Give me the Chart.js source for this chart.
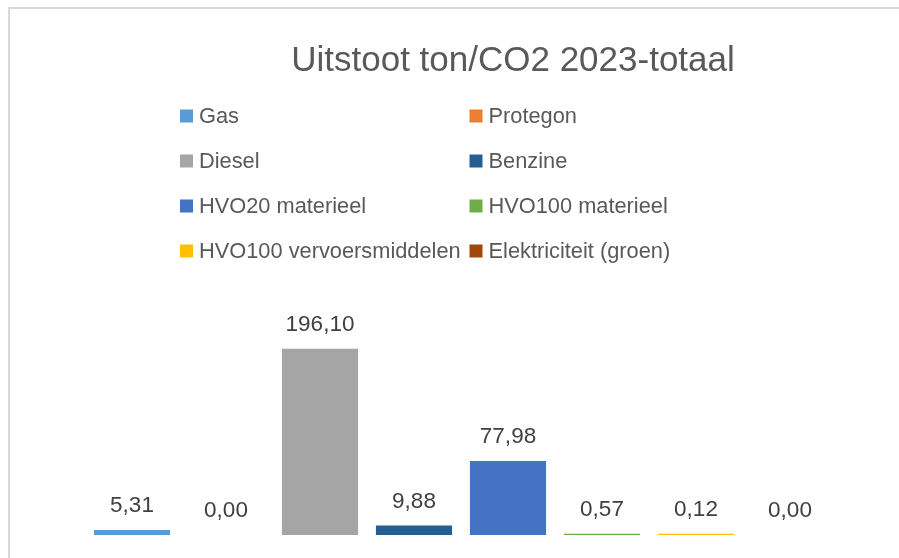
<!DOCTYPE html>
<html>
<head>
<meta charset="utf-8">
<script src="https://cdn.jsdelivr.net/npm/chart.js@4/dist/chart.umd.min.js"></script>
<style>
  html, body { margin: 0; padding: 0; background: #ffffff; }
  #wrap { width: 899px; height: 558px; position: relative; }
</style>
</head>
<body>
<div id="wrap"><canvas id="c" width="899" height="558"></canvas></div>
<script>
// ---- data ----
const chartTitle = "Uitstoot ton/CO2 2023-totaal";
const seriesNames = ["Gas", "Protegon", "Diesel", "Benzine", "HVO20 materieel", "HVO100 materieel", "HVO100 vervoersmiddelen", "Elektriciteit (groen)"];
const seriesValues = [5.31, 0.00, 196.10, 9.88, 77.98, 0.57, 0.12, 0.00];
const seriesColors = ["#5B9BD5", "#ED7D31", "#A5A5A5", "#255E91", "#4472C4", "#70AD47", "#FFC000", "#9E480E"];
const yMin = 0;
const yMax = 200;

// ---- build datasets: one per series, each in its own slot ----
const datasets = seriesNames.map((name, i) => ({
  label: name,
  data: seriesNames.map((_, j) => (j === i ? seriesValues[i] : null)),
  backgroundColor: seriesColors[i],
  borderWidth: 0,
  skipNull: true,
  minBarLength: seriesValues[i] > 0 ? 1.2 : 0,
  categoryPercentage: 1.0,
  barPercentage: 0.81
}));

const fmt = v => v.toFixed(2).replace(".", ",");

const decor = {
  id: "decor",
  beforeDraw(chart) {
    const ctx = chart.ctx;
    ctx.save();
    ctx.fillStyle = "#ffffff";
    ctx.fillRect(0, 0, chart.width, chart.height);
    // outer frame
    ctx.strokeStyle = "#D9D9D9";
    ctx.lineWidth = 2;
    ctx.strokeRect(9, 8, 1200, 1200);
    ctx.restore();
  },
  afterDraw(chart) {
    const ctx = chart.ctx;
    ctx.save();
    // title
    ctx.fillStyle = "#595959";
    ctx.font = "35px 'Liberation Sans', Arial, sans-serif";
    ctx.textAlign = "center";
    ctx.textBaseline = "alphabetic";
    ctx.fillText(chartTitle, 513, 71);

    // legend grid (2 columns)
    ctx.font = "21.8px 'Liberation Sans', Arial, sans-serif";
    ctx.textAlign = "left";
    const colX = [180, 469.5];
    const rowY = [116, 161, 206, 251];
    chart.data.datasets.forEach((ds, i) => {
      const cx = colX[i % 2];
      const cy = rowY[Math.floor(i / 2)];
      ctx.fillStyle = ds.backgroundColor;
      ctx.fillRect(cx, cy - 6.5, 13, 13);
      ctx.fillStyle = "#595959";
      ctx.textBaseline = "middle";
      ctx.fillText(ds.label, cx + 19, cy + 1);
    });

    // data labels
    ctx.font = "22.5px 'Liberation Sans', Arial, sans-serif";
    ctx.fillStyle = "#404040";
    ctx.textAlign = "center";
    ctx.textBaseline = "alphabetic";
    chart.data.datasets.forEach((ds, i) => {
      const meta = chart.getDatasetMeta(i);
      ds.data.forEach((v, j) => {
        if (v === null) return;
        const el = meta.data[j];
        ctx.fillText(fmt(v), el.x, Math.min(el.y, el.base) - 18);
      });
    });
    ctx.restore();
  }
};

new Chart(document.getElementById("c"), {
  type: "bar",
  data: { labels: seriesNames, datasets },
  options: {
    responsive: false,
    animation: false,
    events: [],
    layout: { padding: { left: 85, right: 62, top: 345, bottom: 23 } },
    plugins: {
      legend: { display: false },
      title: { display: false },
      tooltip: { enabled: false }
    },
    scales: {
      x: { display: false, offset: true, stacked: false },
      y: { display: false, min: yMin, max: yMax }
    }
  },
  plugins: [decor]
});
</script>
</body>
</html>
